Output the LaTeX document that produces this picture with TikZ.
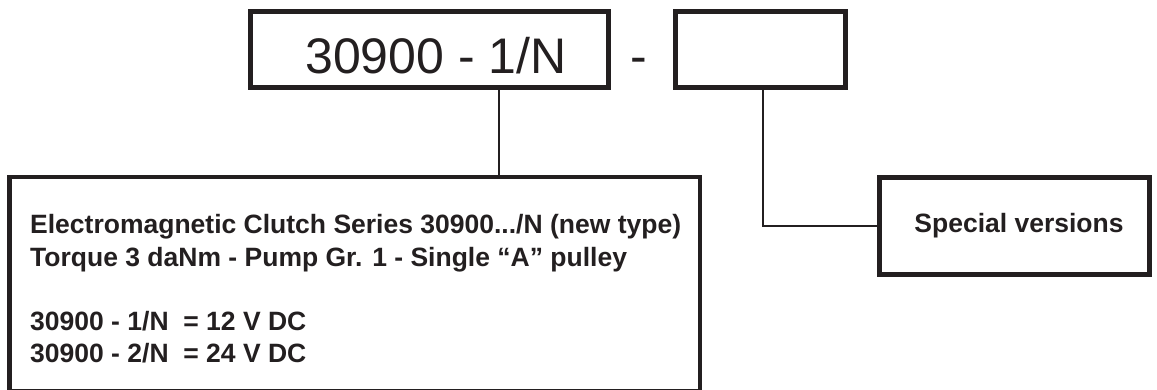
\documentclass[tikz,border=0pt]{standalone}
\usepackage{fontspec}
\setmainfont{Liberation Sans}
\definecolor{ink}{HTML}{231F20}
\begin{document}
\begin{tikzpicture}[x=1pt,y=-1pt,
  heavybox/.style={draw=ink,line width=5pt,rectangle,inner sep=0pt},
  bigbox/.style={draw=ink,line width=4.5pt,rectangle,inner sep=0pt},
  conn/.style={draw=ink,line width=2.5pt},
  bigtxt/.style={text=ink,font=\fontsize{50}{60}\selectfont,inner sep=0pt},
  boldtxt/.style={text=ink,font=\bfseries\fontsize{26.5}{32}\selectfont,inner sep=0pt}]
\useasboundingbox (0,0) rectangle (1157,389);
% top boxes
\node[heavybox,minimum width=358pt,minimum height=76pt] (b1) at (429.5,49.5) {};
\node[bigtxt,anchor=base] (t1) at (436,73) {30900 - 1/N};
\node[bigtxt,anchor=base] (dash) at (639,73) {-};
\node[heavybox,minimum width=170pt,minimum height=76pt] (b2) at (760.5,49.5) {};
% big description box
\node[bigbox,minimum width=690.5pt,minimum height=213.75pt] (bb) at (354.5,284.1) {};
\node[boldtxt,anchor=base west] (l1) at (30,233) {Electromagnetic Clutch Series 30900.../N (new type)};
\node[boldtxt,anchor=base west] (l2) at (30,266) {Torque 3 daNm - Pump Gr. 1 - Single “A” pulley};
\node[boldtxt,anchor=base west] (l3) at (30,330) {30900 - 1/N\ \ = 12 V DC};
\node[boldtxt,anchor=base west] (l4) at (30,362) {30900 - 2/N\ \ = 24 V DC};
% special versions box
\node[heavybox,minimum width=270pt,minimum height=97pt] (b3) at (1014.5,226) {};
\node[boldtxt] (t3) at (1019,226) {Special versions};
% connectors
\coordinate (c1) at ([xshift=69.5pt]b1.south);
\draw[conn] (c1) -- (c1 |- bb.north);
\draw[conn] ([xshift=2.5pt]b2.south) |- (b3.west);
\end{tikzpicture}
\end{document}
